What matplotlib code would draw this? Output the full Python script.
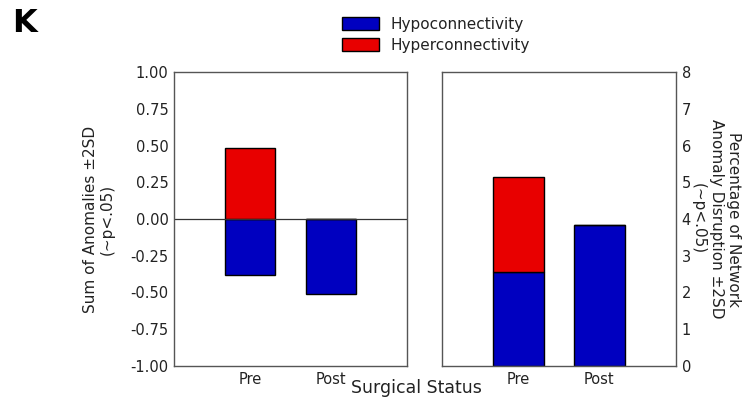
import matplotlib.pyplot as plt
from matplotlib.patches import Patch

# Surgical groups and stacked anomaly values
Status = ["Pre", "Post"]
Hypo_sum = [-0.38, -0.51]
Hyper_sum = [0.48, 0.0]
Hypo_pct = [2.55, 3.85]
Hyper_pct = [2.58, 0.0]

Blue = "#0000c0"
Red = "#e80000"
Pos = [0, 1]

plt.rcParams["axes.unicode_minus"] = False

fig = plt.figure(figsize=(7.46, 3.99), dpi=100)
ax1 = fig.add_axes([174 / 746, 33 / 399, 233 / 746, 294 / 399])
ax2 = fig.add_axes([442 / 746, 33 / 399, 234 / 746, 294 / 399])

# Left panel: signed sum of anomalies
ax1.bar(Pos, Hypo_sum, width=0.625, color=Blue, edgecolor="black", linewidth=1)
ax1.bar(Pos, Hyper_sum, width=0.625, color=Red, edgecolor="black", linewidth=1)
ax1.axhline(0, color="#333333", linewidth=0.9)
ax1.set_ylim(-1, 1)
ax1.set_yticks([-1, -0.75, -0.5, -0.25, 0, 0.25, 0.5, 0.75, 1])
ax1.set_ylabel("Sum of Anomalies ±2SD\n(~p<.05)", fontsize=11, color="#222222",
               labelpad=11)

# Right panel: percentage of network disrupted, stacked
ax2.bar(Pos, Hypo_pct, width=0.625, color=Blue, edgecolor="black", linewidth=1)
ax2.bar(Pos, Hyper_pct, bottom=Hypo_pct, width=0.625, color=Red,
        edgecolor="black", linewidth=1)
ax2.set_ylim(0, 8)
ax2.set_yticks(range(9))
ax2.yaxis.tick_right()
ax2.yaxis.set_label_position("right")
ax2.set_ylabel("Percentage of Network\nAnomaly Disruption ±2SD\n(~p<.05)",
               fontsize=11, color="#222222", rotation=270, labelpad=36)

for ax in (ax1, ax2):
    ax.set_xlim(-0.95, 1.95)
    ax.set_xticks(Pos)
    ax.set_xticklabels(Status)
    ax.tick_params(direction="in", length=0, labelsize=10.5, colors="#222222", pad=4)
    for s in ax.spines.values():
        s.set_color("#555555")
        s.set_linewidth(1)

fig.text(416 / 746, 11 / 399, "Surgical Status", ha="center", va="center",
         fontsize=12.5, color="#222222")
fig.text(12 / 746, 376 / 399, "K", fontsize=23, fontweight="bold", va="center")

handles = [Patch(facecolor=Blue, edgecolor="black", label="Hypoconnectivity"),
           Patch(facecolor=Red, edgecolor="black", label="Hyperconnectivity")]
fig.legend(handles=handles, loc="center", bbox_to_anchor=(436 / 746, 364 / 399),
           frameon=False, fontsize=11, handlelength=2.4, handleheight=0.9,
           labelspacing=0.4, handletextpad=0.8, labelcolor="#222222")

fig.savefig("out.png", dpi=100)
